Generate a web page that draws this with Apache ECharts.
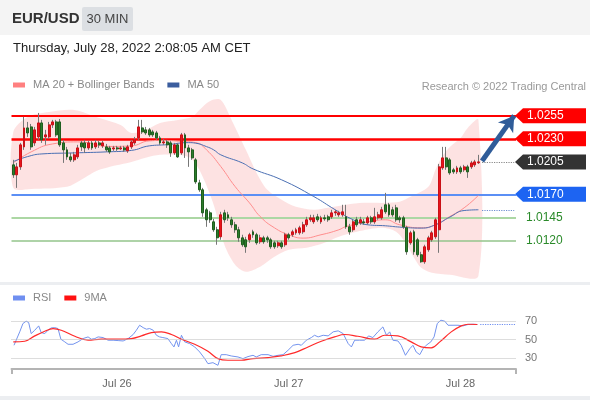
<!DOCTYPE html>
<html>
<head>
<meta charset="utf-8">
<title>EUR/USD 30 MIN</title>
<script src="https://cdn.jsdelivr.net/npm/echarts@6/dist/echarts.min.js"></script>
<style>
  html, body { margin: 0; padding: 0; background: #fff; }
  #chart { width: 590px; height: 400px; }
</style>
</head>
<body>
<div id="chart"></div>
<script>
// 30 min bars, first one Jul 25 09:30
var opens = [1.02018,1.01910,1.01996,1.02212,1.02417,1.02428,1.02255,1.02320,1.02471,1.02320,
  1.02320,1.02450,1.02482,1.02482,1.02255,1.02180,1.02104,1.02072,1.02104,1.02255,
  1.02255,1.02201,1.02255,1.02212,1.02255,1.02223,1.02212,1.02201,1.02190,1.02201,
  1.02190,1.02201,1.02169,1.02212,1.02255,1.02309,1.02417,1.02396,1.02396,1.02374,
  1.02363,1.02309,1.02255,1.02266,1.02255,1.02147,1.02234,1.02147,1.02342,1.02201,
  1.02180,1.02072,1.01823,1.01748,1.01532,1.01499,1.01402,1.01316,1.01240,1.01499,
  1.01478,1.01424,1.01370,1.01316,1.01229,1.01208,1.01208,1.01294,1.01262,1.01186,
  1.01229,1.01229,1.01208,1.01175,1.01143,1.01175,1.01154,1.01262,1.01262,1.01283,
  1.01283,1.01294,1.01370,1.01424,1.01402,1.01456,1.01402,1.01445,1.01456,1.01456,
  1.01499,1.01478,1.01478,1.01456,1.01348,1.01316,1.01424,1.01391,1.01402,1.01391,
  1.01445,1.01402,1.01445,1.01445,1.01586,1.01586,1.01532,1.01553,1.01445,1.01445,
  1.01337,1.01175,1.01294,1.01208,1.01046,1.00970,1.01100,1.01208,1.01240,1.01316,
  1.01985,1.02093,1.02072,1.01964,1.01942,1.01985,1.01964,1.01996,1.01996,1.02018,
  1.02040];
var closes = [1.01910,1.01996,1.02234,1.02417,1.02363,1.02212,1.02396,1.02471,1.02288,1.02342,
  1.02450,1.02482,1.02342,1.02234,1.02180,1.02104,1.02072,1.02126,1.02201,1.02212,
  1.02201,1.02255,1.02201,1.02255,1.02234,1.02255,1.02180,1.02158,1.02201,1.02190,
  1.02201,1.02180,1.02212,1.02266,1.02288,1.02428,1.02374,1.02363,1.02342,1.02342,
  1.02309,1.02255,1.02266,1.02234,1.02147,1.02234,1.02104,1.02342,1.02201,1.02158,
  1.02093,1.01834,1.01748,1.01499,1.01424,1.01424,1.01316,1.01229,1.01478,1.01424,
  1.01445,1.01370,1.01316,1.01229,1.01154,1.01132,1.01262,1.01262,1.01175,1.01229,
  1.01186,1.01208,1.01132,1.01132,1.01175,1.01132,1.01262,1.01229,1.01294,1.01316,
  1.01337,1.01370,1.01424,1.01445,1.01445,1.01424,1.01445,1.01434,1.01424,1.01499,
  1.01510,1.01499,1.01510,1.01348,1.01294,1.01402,1.01370,1.01424,1.01391,1.01445,
  1.01402,1.01456,1.01478,1.01532,1.01510,1.01478,1.01478,1.01424,1.01424,1.01348,
  1.01078,1.01283,1.01078,1.01046,1.00970,1.01132,1.01229,1.01283,1.01424,1.01996,
  1.02093,1.01996,1.01931,1.01942,1.01985,1.01942,1.01996,1.01942,1.02039,1.02050,
  1.02050];
var lows = [1.01877,1.01769,1.01964,1.02180,1.02320,1.02180,1.02223,1.02288,1.02255,1.02234,
  1.02298,1.02417,1.02320,1.02212,1.02039,1.02072,1.02050,1.02050,1.02082,1.02169,
  1.02147,1.02180,1.02180,1.02190,1.02201,1.02201,1.02158,1.02136,1.02169,1.02169,
  1.02180,1.02158,1.02147,1.02190,1.02234,1.02288,1.02352,1.02342,1.02320,1.02320,
  1.02288,1.02234,1.02234,1.02201,1.02104,1.02126,1.02093,1.02126,1.02093,1.01996,
  1.02072,1.01812,1.01726,1.01456,1.01348,1.01391,1.01294,1.01154,1.01208,1.01391,
  1.01413,1.01337,1.01283,1.01186,1.01132,1.01067,1.01175,1.01229,1.01154,1.01164,
  1.01164,1.01175,1.01110,1.01110,1.01121,1.01110,1.01132,1.01208,1.01240,1.01262,
  1.01262,1.01272,1.01348,1.01402,1.01380,1.01402,1.01380,1.01413,1.01402,1.01434,
  1.01467,1.01456,1.01456,1.01326,1.01262,1.01294,1.01348,1.01370,1.01370,1.01370,
  1.01380,1.01380,1.01424,1.01424,1.01488,1.01456,1.01456,1.01402,1.01391,1.01326,
  1.01046,1.01154,1.01046,1.01024,1.00959,1.00948,1.01078,1.01186,1.01218,1.01067,
  1.01964,1.01964,1.01910,1.01920,1.01920,1.01920,1.01942,1.01877,1.01974,1.01996,
  1.02028];
var highs = [1.02072,1.02039,1.02255,1.02536,1.02482,1.02460,1.02428,1.02579,1.02504,1.02396,
  1.02482,1.02504,1.02504,1.02514,1.02288,1.02212,1.02147,1.02158,1.02234,1.02277,
  1.02288,1.02277,1.02277,1.02288,1.02277,1.02277,1.02244,1.02223,1.02223,1.02223,
  1.02223,1.02223,1.02234,1.02288,1.02320,1.02504,1.02504,1.02428,1.02417,1.02396,
  1.02385,1.02331,1.02298,1.02288,1.02277,1.02255,1.02255,1.02363,1.02363,1.02234,
  1.02201,1.02093,1.01856,1.01769,1.01553,1.01521,1.01434,1.01348,1.01510,1.01532,
  1.01510,1.01456,1.01402,1.01348,1.01262,1.01240,1.01283,1.01316,1.01283,1.01262,
  1.01251,1.01251,1.01229,1.01197,1.01197,1.01197,1.01283,1.01283,1.01316,1.01337,
  1.01359,1.01402,1.01456,1.01478,1.01478,1.01488,1.01467,1.01478,1.01478,1.01532,
  1.01532,1.01521,1.01586,1.01586,1.01380,1.01424,1.01456,1.01456,1.01434,1.01467,
  1.01467,1.01553,1.01510,1.01564,1.01715,1.01607,1.01564,1.01586,1.01467,1.01467,
  1.01359,1.01305,1.01316,1.01229,1.01078,1.01154,1.01251,1.01305,1.01445,1.02028,
  1.02212,1.02212,1.02093,1.01985,1.02007,1.02007,1.02018,1.02018,1.02061,1.02072,
  1.02126];

// [bar index, value]
var ma20 = [[0,1.02039],[5,1.02158],[11,1.02244],[18,1.02266],[27,1.02217],[33,1.02223],[38,1.02277],
  [42,1.02282],[47,1.02271],[51,1.02258],[54,1.02180],[58,1.01999],[62,1.01783],[66,1.01607],
  [69,1.01459],[73,1.01337],[77,1.01262],[81,1.01226],[86,1.01262],[91,1.01316],[93,1.01351],
  [100,1.01407],[104,1.01424],[108,1.01370],[114,1.01337],[118,1.01370],[122,1.01459],
  [126,1.01553],[130,1.01688]];
var ma50 = [[0,1.02053],[4,1.02107],[8,1.02136],[17,1.02147],[26,1.02158],[33,1.02174],[38,1.02223],
  [43,1.02236],[49,1.02258],[51,1.02252],[54,1.02215],[56,1.02180],[58,1.02126],[64,1.02039],
  [67,1.01974],[75,1.01856],[84,1.01675],[90,1.01532],[95,1.01424],[99,1.01370],[104,1.01359],
  [108,1.01345],[114,1.01334],[118,1.01370],[122,1.01453],[126,1.01524],[130,1.01532]];
var bbUpper = [[0,1.02374],[4,1.02536],[10,1.02590],[17,1.02612],[24,1.02525],[30,1.02450],[33,1.02363],
  [37,1.02396],[41,1.02471],[46,1.02504],[50,1.02536],[52,1.02612],[55,1.02709],[58,1.02720],
  [61,1.02504],[65,1.02180],[68,1.01931],[71,1.01748],[75,1.01640],[79,1.01564],[84,1.01532],
  [88,1.01553],[93,1.01586],[98,1.01607],[104,1.01607],[108,1.01618],[111,1.01672],[116,1.01780],
  [118,1.01964],[120,1.02115],[122,1.02212],[125,1.02309],[127,1.02417],[130,1.02504]];
var bbLower = [[0,1.01769],[5,1.01758],[15,1.01780],[19,1.01856],[24,1.01964],[33,1.02050],[41,1.02126],
  [49,1.02104],[52,1.01964],[56,1.01586],[59,1.01154],[62,1.00938],[65,1.00862],[69,1.00916],
  [73,1.01024],[77,1.01100],[82,1.01121],[87,1.01175],[91,1.01240],[96,1.01294],[103,1.01337],
  [107,1.01294],[110,1.01154],[112,1.01013],[114,1.00905],[117,1.00851],[122,1.00830],[130,1.00819]];

// RSI panel, [bar position, value]
var rsi = [[0.2,43.8],[0.8,49.3],[1.8,58.4],[2.7,67.5],[3.6,70],[4.3,68.5],[5.0,56.5],[6.0,60.2],
  [7.1,64.9],[7.8,57.6],[8.8,56.5],[9.7,60.2],[10.6,62.7],[11.6,63],[12.5,62],[13.3,50.4],
  [14.4,47.5],[15.3,44.9],[16.7,44.9],[18.1,47.5],[19.5,51.1],[20.9,52.9],[21.8,50.4],[22.8,51.1],
  [23.7,52.9],[25.1,52.2],[26.5,49.3],[27.9,49.3],[29.3,48.9],[30.7,48.5],[32.1,51.1],[33.5,55.5],
  [34.4,60.2],[35.3,65.6],[36.3,63],[37.2,61.3],[38.1,62],[39.1,60.2],[40.0,54.7],[40.9,52.9],
  [41.8,52.2],[43.2,51.1],[44.2,45.6],[44.9,42],[45.6,49.3],[46.2,42],[47.0,54.7],[47.9,47.5],
  [49.3,45.6],[50.7,42],[52.1,36.5],[53.5,29.3],[54.4,23.8],[55.8,24.9],[57.2,22],[58.1,33.6],
  [59.5,33.6],[60.9,32.2],[62.8,31.1],[64.2,29.3],[65.6,31.5],[67.0,32.9],[67.9,31.1],[69.3,33.6],
  [71.2,33.6],[72.6,31.8],[74.0,32.9],[75.4,33.6],[76.8,38.4],[78.2,43.8],[79.6,44.9],[80.5,43.8],
  [81.9,49.3],[83.3,52.2],[84.2,54.7],[85.2,52.9],[86.6,54.7],[88.0,54],[89.4,58.4],[90.8,59.5],
  [92.2,56.5],[93.6,45.6],[94.5,42],[95.4,49.3],[96.8,49.3],[98.2,49.3],[99.3,54],[100.5,52.2],
  [101.9,58.4],[103.3,63.8],[104.3,54.7],[105.2,58.4],[106.1,49.3],[107.5,48.5],[108.4,43.8],
  [109.6,32.9],[110.8,40],[111.7,43.8],[112.6,36.5],[113.6,33.6],[114.5,40],[115.4,43.8],
  [116.7,47.5],[117.6,52.9],[118.5,67.5],[119.5,71.1],[120.6,70],[121.5,65.6],[122.9,65.6],
  [124.3,65.6],[125.7,64.9],[127.1,66.4],[128.5,66.7],[129.7,66.4]];
var rsiMa9 = [[0,47.5],[3.2,48.2],[6.0,54],[8.8,59.1],[11.1,62],[13.4,60.2],[17.2,53.6],[20.9,49.3],
  [24.6,50.4],[29.3,50.4],[33.0,51.1],[35.8,54],[38.6,57.6],[41.4,58.4],[44.2,55.5],[47.0,50.4],
  [50.7,44.9],[54.4,37.3],[57.2,29.3],[60.0,27.5],[63.7,27.5],[67.0,29.3],[71.2,30.4],[74.8,32.2],
  [78.7,35.8],[82.4,42],[86.1,48.2],[89.8,52.9],[92.6,55.5],[96.3,53.6],[101.0,50.4],[103.8,54.7],
  [107.5,54],[111.2,47.5],[114.0,42],[116.8,40.9],[119.2,47.5],[122.4,58.4],[125.2,64.9],
  [127.1,66.7],[129.7,66.4]];

var levelValues = [1.0255, 1.0230, 1.0205, 1.0170, 1.0145, 1.0120];
var levelLabels = ['1.0255', '1.0230', '1.0205', '1.0170', '1.0145', '1.0120'];
var rsiLevels = [30, 50, 70];
var dayTickIdx = [29, 77, 125];
var dayTickText = ['Jul 26', 'Jul 27', 'Jul 28'];

var barCount = 141;  // visible bars + empty room on the right
var months = ['Jan','Feb','Mar','Apr','May','Jun','Jul','Aug','Sep','Oct','Nov','Dec'];
var cats = [];
for (var k = 0; k < barCount; k++) {
  var d = new Date(Date.UTC(2022, 6, 25, 9, 30) + k * 1800000);
  cats.push(months[d.getUTCMonth()] + ' ' + d.getUTCDate() + ' ' +
    ('0' + d.getUTCHours()).slice(-2) + ':' + ('0' + d.getUTCMinutes()).slice(-2));
}

var last = opens.length - 1;
var lastMa50 = ma50[ma50.length - 1][1];
var lastRsi = rsi[rsi.length - 1][1];

var wicks = opens.map(function (o, i) { return [o, closes[i], lows[i], highs[i]]; });
var bodies = opens.map(function (o, i) {
  return [o, closes[i], Math.min(o, closes[i]), Math.max(o, closes[i])];
});

var FONT = '"Liberation Sans", Arial, sans-serif';
var chart = echarts.init(document.getElementById('chart'));

var option = {
  animation: false,
  textStyle: { fontFamily: FONT },
  legend: [{
    left: 13, top: 79.5, padding: 0, icon: 'rect', itemWidth: 12, itemHeight: 5, itemGap: 13,
    selectedMode: false,
    textStyle: { color: '#888', fontSize: 11, padding: [0, 0, 0, 3] },
    data: [
      { name: 'MA 20 + Bollinger Bands', itemStyle: { color: '#ff8080' } },
      { name: 'MA 50', itemStyle: { color: '#3b5d9e' } }
    ]
  }, {
    left: 13, top: 292.5, padding: 0, icon: 'rect', itemWidth: 12, itemHeight: 5, itemGap: 13,
    selectedMode: false,
    textStyle: { color: '#888', fontSize: 11, padding: [0, 0, 0, 3] },
    data: [
      { name: 'RSI', itemStyle: { color: '#6f8ff0' } },
      { name: '9MA', itemStyle: { color: '#ff1010' } }
    ]
  }],
  grid: [
    { left: 11.5, width: 504.5, top: 92.5, height: 185 },
    { left: 11.5, width: 504.5, top: 312, height: 57 }
  ],
  xAxis: [{
    type: 'category', gridIndex: 0, data: cats, boundaryGap: true,
    axisLine: { show: false }, axisTick: { show: false }, axisLabel: { show: false },
    splitLine: { show: false }
  }, {
    type: 'value', gridIndex: 1, min: -0.5, max: barCount - 0.5,
    axisLine: { show: true, lineStyle: { color: '#b4b4b4', width: 2 } },
    axisTick: { show: true, customValues: [-0.5, barCount - 0.5], length: 5,
      lineStyle: { color: '#b4b4b4', width: 2 } },
    axisLabel: {
      customValues: dayTickIdx, color: '#666', fontSize: 11, margin: 9,
      formatter: function (v) {
        var j = dayTickIdx.indexOf(v);
        return j >= 0 ? dayTickText[j] : '';
      }
    },
    splitLine: { show: false }
  }],
  yAxis: [{
    type: 'value', gridIndex: 0, min: 1.0080, max: 1.0280, show: false, splitLine: { show: false }
  }, {
    type: 'value', gridIndex: 1, min: 18, max: 80, position: 'right',
    axisLine: { show: false }, axisTick: { show: false }, splitLine: { show: false },
    axisLabel: { customValues: rsiLevels, color: '#777', fontSize: 11, margin: 9 }
  }],
  series: [{
    name: 'bands', type: 'custom', xAxisIndex: 0, yAxisIndex: 0, z: 1, silent: true,
    data: [[0, bbUpper[0][1]]],
    renderItem: function (params, api) {
      var pts = [];
      bbUpper.forEach(function (p) { pts.push(api.coord(p)); });
      for (var j = bbLower.length - 1; j >= 0; j--) pts.push(api.coord(bbLower[j]));
      return {
        type: 'polygon', shape: { points: pts, smooth: 0.3 },
        style: { fill: 'rgba(248,160,160,0.3)' }
      };
    }
  }, {
    name: 'MA 20 + Bollinger Bands', type: 'line', xAxisIndex: 0, yAxisIndex: 0, z: 2,
    data: ma20, smooth: true, showSymbol: false, silent: true,
    lineStyle: { color: '#ff8c8c', width: 1 }, itemStyle: { color: '#ff8080' },
    markLine: {
      silent: true, symbol: ['none', 'none'], label: { show: false }, z: 2, precision: 6,
      data: [
        { yAxis: levelValues[0], lineStyle: { color: '#ff0000', width: 2, type: 'solid' } },
        { yAxis: levelValues[1], lineStyle: { color: '#ff0000', width: 2.5, type: 'solid' } },
        { yAxis: levelValues[3], lineStyle: { color: '#5b8ff5', width: 2, type: 'solid' } },
        { yAxis: levelValues[4], lineStyle: { color: '#acd7a4', width: 2, type: 'solid' } },
        { yAxis: levelValues[5], lineStyle: { color: '#93c58b', width: 1.5, type: 'solid' } }
      ]
    }
  }, {
    name: 'MA 50', type: 'line', xAxisIndex: 0, yAxisIndex: 0, z: 2,
    data: ma50, smooth: true, showSymbol: false, silent: true,
    lineStyle: { color: '#4a6fb3', width: 1 }, itemStyle: { color: '#3b5d9e' },
    markLine: {
      silent: true, symbol: ['none', 'none'], label: { show: false }, precision: 6,
      lineStyle: { color: '#6f8fd0', type: 'dotted', width: 1.2 },
      data: [[{ coord: [last + 1, lastMa50] }, { coord: [barCount - 1, lastMa50] }]]
    }
  }, {
    name: 'wicks', type: 'candlestick', xAxisIndex: 0, yAxisIndex: 0, z: 3,
    data: wicks, barWidth: 1, silent: true,
    itemStyle: { color: '#777', color0: '#777', borderColor: '#777', borderColor0: '#777', borderWidth: 1 }
  }, {
    name: 'candles', type: 'candlestick', xAxisIndex: 0, yAxisIndex: 0, z: 4,
    data: bodies, barWidth: 2.4, silent: true,
    itemStyle: {
      color: '#e8141b', color0: '#2c7d2c', borderColor: '#c91017', borderColor0: '#1f5e1f',
      borderWidth: 1
    },
    markLine: {
      silent: true, label: { show: false }, z: 6, precision: 6,
      data: [
        [{ coord: [last + 1, levelValues[2]], symbol: 'none',
           lineStyle: { color: '#888', type: 'dotted', width: 1.2 } },
         { coord: [barCount - 1, levelValues[2]], symbol: 'none' }],
        [{ coord: [last + 1, levelValues[2] + 0.0001], symbol: 'none',
           lineStyle: { color: '#2f5c99', type: 'solid', width: 5 } },
         { coord: [barCount - 1, levelValues[0]], symbol: 'arrow', symbolSize: [14, 15] }]
      ]
    }
  }, {
    name: 'RSI', type: 'line', xAxisIndex: 1, yAxisIndex: 1,
    data: rsi, showSymbol: false, silent: true,
    lineStyle: { color: '#7393ee', width: 1 }, itemStyle: { color: '#6f8ff0' },
    markLine: {
      silent: true, symbol: ['none', 'none'], label: { show: false }, precision: 3,
      data: [
        { yAxis: rsiLevels[0], lineStyle: { color: '#bbb', type: 'dotted', width: 1 } },
        { yAxis: rsiLevels[1], lineStyle: { color: '#bbb', type: 'dotted', width: 1 } },
        { yAxis: rsiLevels[2], lineStyle: { color: '#bbb', type: 'dotted', width: 1 } },
        [{ coord: [rsi[rsi.length - 1][0] + 0.8, lastRsi],
           lineStyle: { color: '#6f8ff0', type: 'dotted', width: 1.2 } },
         { coord: [barCount - 0.5, lastRsi] }]
      ]
    }
  }, {
    name: '9MA', type: 'line', xAxisIndex: 1, yAxisIndex: 1,
    data: rsiMa9, smooth: 0.4, showSymbol: false, silent: true,
    lineStyle: { color: '#ff2a2a', width: 1.2 }, itemStyle: { color: '#ff1010' }
  }]
};

chart.setOption(option);

// header, panel frame and the price tags on the right
var tagFill = ['#ff0000', '#ff0000', '#333333', '#1d64f2', null, null];
var graphics = [
  { type: 'rect', silent: true, z: -10, shape: { x: 0, y: 0, width: 590, height: 35 }, style: { fill: '#f4f4f4' } },
  { type: 'text', x: 12, y: 19, style: { text: 'EUR/USD', font: 'bold 15px ' + FONT, fill: '#333',
      verticalAlign: 'middle', textVerticalAlign: 'middle' } },
  { type: 'rect', shape: { x: 82, y: 7, width: 51, height: 24, r: 2 }, style: { fill: '#dcdfe3' } },
  { type: 'text', x: 107.5, y: 19.5, style: { text: '30 MIN', font: '13px ' + FONT, fill: '#444',
      align: 'center', textAlign: 'center', verticalAlign: 'middle', textVerticalAlign: 'middle' } },
  { type: 'text', x: 13, y: 48, style: { text: 'Thursday, July 28, 2022 2:08:05 AM CET', font: '13px ' + FONT,
      fill: '#222', verticalAlign: 'middle', textVerticalAlign: 'middle' } },
  { type: 'text', x: 586, y: 86.5, style: { text: 'Research \u00a9 2022 Trading Central', font: '11px ' + FONT,
      fill: '#999', align: 'right', textAlign: 'right', verticalAlign: 'middle', textVerticalAlign: 'middle' } },
  { type: 'rect', silent: true, shape: { x: 0, y: 282, width: 590, height: 3 }, style: { fill: '#eceef1' } },
  { type: 'rect', silent: true, shape: { x: 0, y: 396, width: 590, height: 4 }, style: { fill: '#eceef1' } }
];
levelValues.forEach(function (v, i) {
  var y = chart.convertToPixel({ yAxisIndex: 0 }, v);
  if (tagFill[i]) {
    graphics.push({ type: 'polygon', shape: { points: [[515, y], [523, y - 7.5], [586, y - 7.5], [586, y + 7.5], [523, y + 7.5]] },
      style: { fill: tagFill[i] } });
    graphics.push({ type: 'text', x: 527, y: y, style: { text: levelLabels[i], font: '12px ' + FONT, fill: '#fff',
      verticalAlign: 'middle', textVerticalAlign: 'middle' } });
  } else {
    graphics.push({ type: 'text', x: 526, y: y, style: { text: levelLabels[i], font: '12px ' + FONT, fill: '#2a8a2a',
      verticalAlign: 'middle', textVerticalAlign: 'middle' } });
  }
});
chart.setOption({ graphic: graphics });
</script>
</body>
</html>
